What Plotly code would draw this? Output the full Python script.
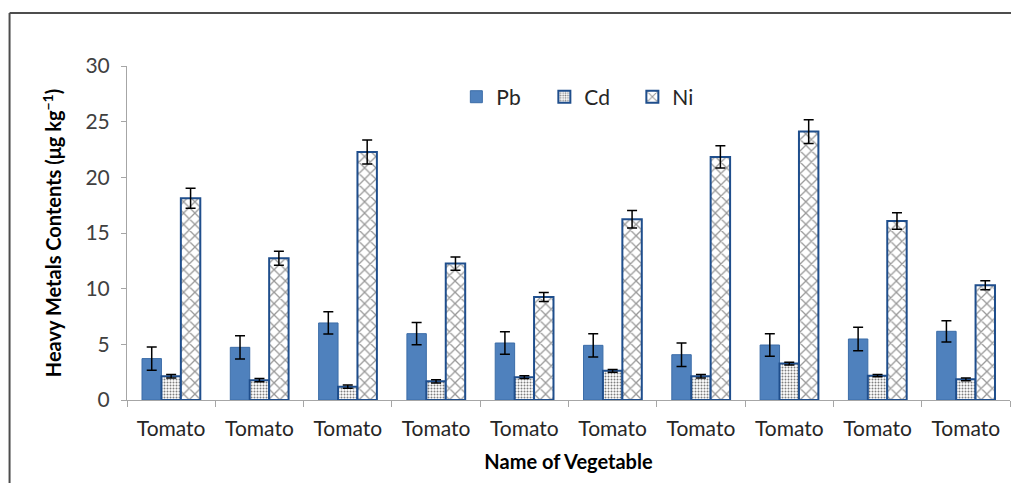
import plotly.graph_objects as go

vegetables = ["Tomato", "Tomato", "Tomato", "Tomato", "Tomato",
              "Tomato", "Tomato", "Tomato", "Tomato", "Tomato"]
pb = [3.72, 4.73, 6.92, 5.96, 5.12, 4.91, 4.07, 4.94, 5.48, 6.17]
pb_err = [1.05, 1.05, 1.0, 1.0, 1.0, 1.05, 1.05, 1.0, 1.05, 0.95]
cd = [2.13, 1.78, 1.2, 1.68, 2.05, 2.62, 2.13, 3.27, 2.18, 1.86]
cd_err = [0.15, 0.15, 0.15, 0.15, 0.12, 0.12, 0.15, 0.12, 0.1, 0.12]
ni = [18.12, 12.73, 22.28, 12.25, 9.25, 16.23, 21.83, 24.11, 16.08, 10.3]
ni_err = [0.9, 0.63, 1.08, 0.6, 0.4, 0.78, 1.0, 1.07, 0.75, 0.4]

idx = list(range(len(vegetables)))
FONT = "Lato"

fig = go.Figure()
err_style = dict(type="data", color="black", thickness=1.5, width=5)

fig.add_trace(go.Bar(
    name="Pb", x=idx, y=pb,
    error_y=dict(array=pb_err, **err_style),
    marker=dict(color="#4F81BD", line=dict(color="#3C6DA8", width=1)),
))
fig.add_trace(go.Bar(
    name="Cd", x=idx, y=cd,
    error_y=dict(array=cd_err, **err_style),
    marker=dict(color="white", line=dict(color="#1F4E8C", width=2),
                pattern=dict(shape=".", fgcolor="black", bgcolor="white",
                             size=3, solidity=0.35)),
))
fig.add_trace(go.Bar(
    name="Ni", x=idx, y=ni,
    error_y=dict(array=ni_err, **err_style),
    marker=dict(color="white", line=dict(color="#1F4E8C", width=2),
                pattern=dict(shape="x", fgcolor="#333333", bgcolor="white",
                             size=8, solidity=0.3)),
))

boundaries = [i - 0.5 for i in range(len(vegetables) + 1)]

fig.update_layout(
    width=1011, height=475,
    margin=dict(l=119, r=8.5, t=58, b=83),
    paper_bgcolor="white", plot_bgcolor="white",
    barmode="group", bargap=0.34, bargroupgap=0,
    font=dict(family=FONT, color="#404040", size=21),
    showlegend=True,
    legend=dict(orientation="h", x=0.373, y=0.907, xanchor="left", yanchor="middle",
                font=dict(family=FONT, size=21, color="#262626"),
                entrywidth=43, entrywidthmode="pixels", bgcolor="rgba(0,0,0,0)"),
    xaxis=dict(
        range=[-0.5, len(vegetables) - 0.5],
        tickmode="array", tickvals=idx, ticktext=vegetables,
        ticks="", showline=True, linecolor="#A6A6A6", linewidth=1,
        showgrid=False, zeroline=False, ticklabelstandoff=10,
        tickfont=dict(family=FONT, size=21, color="#262626"),
        minor=dict(tickmode="array", tickvals=boundaries, ticks="outside",
                   ticklen=6, tickcolor="#A6A6A6", showgrid=False),
        title=dict(text="<b>Name of Vegetable</b>", standoff=15,
                   font=dict(family=FONT, size=20, color="black")),
    ),
    yaxis=dict(
        range=[0, 30], dtick=5, tick0=0,
        ticks="outside", ticklen=5, tickcolor="#A6A6A6",
        showline=True, linecolor="#A6A6A6", linewidth=1,
        showgrid=False, zeroline=False, ticklabelstandoff=7,
        tickfont=dict(family=FONT, size=21, color="#404040"),
        title=dict(text="<b>Heavy Metals Contents (μg kg<sup>−1</sup>)</b>", standoff=18,
                   font=dict(family=FONT, size=20, color="black")),
    ),
)

# outer chart frame (top and left edges visible in the crop)
fig.add_shape(type="line", xref="paper", yref="paper",
              x0=-0.133, x1=1.05, y0=1.1587, y1=1.1587,
              line=dict(color="#4D4D4D", width=2))
fig.add_shape(type="line", xref="paper", yref="paper",
              x0=-0.133, x1=-0.133, y0=1.1587, y1=-0.4,
              line=dict(color="#4D4D4D", width=2))

fig.write_html("out.html")
